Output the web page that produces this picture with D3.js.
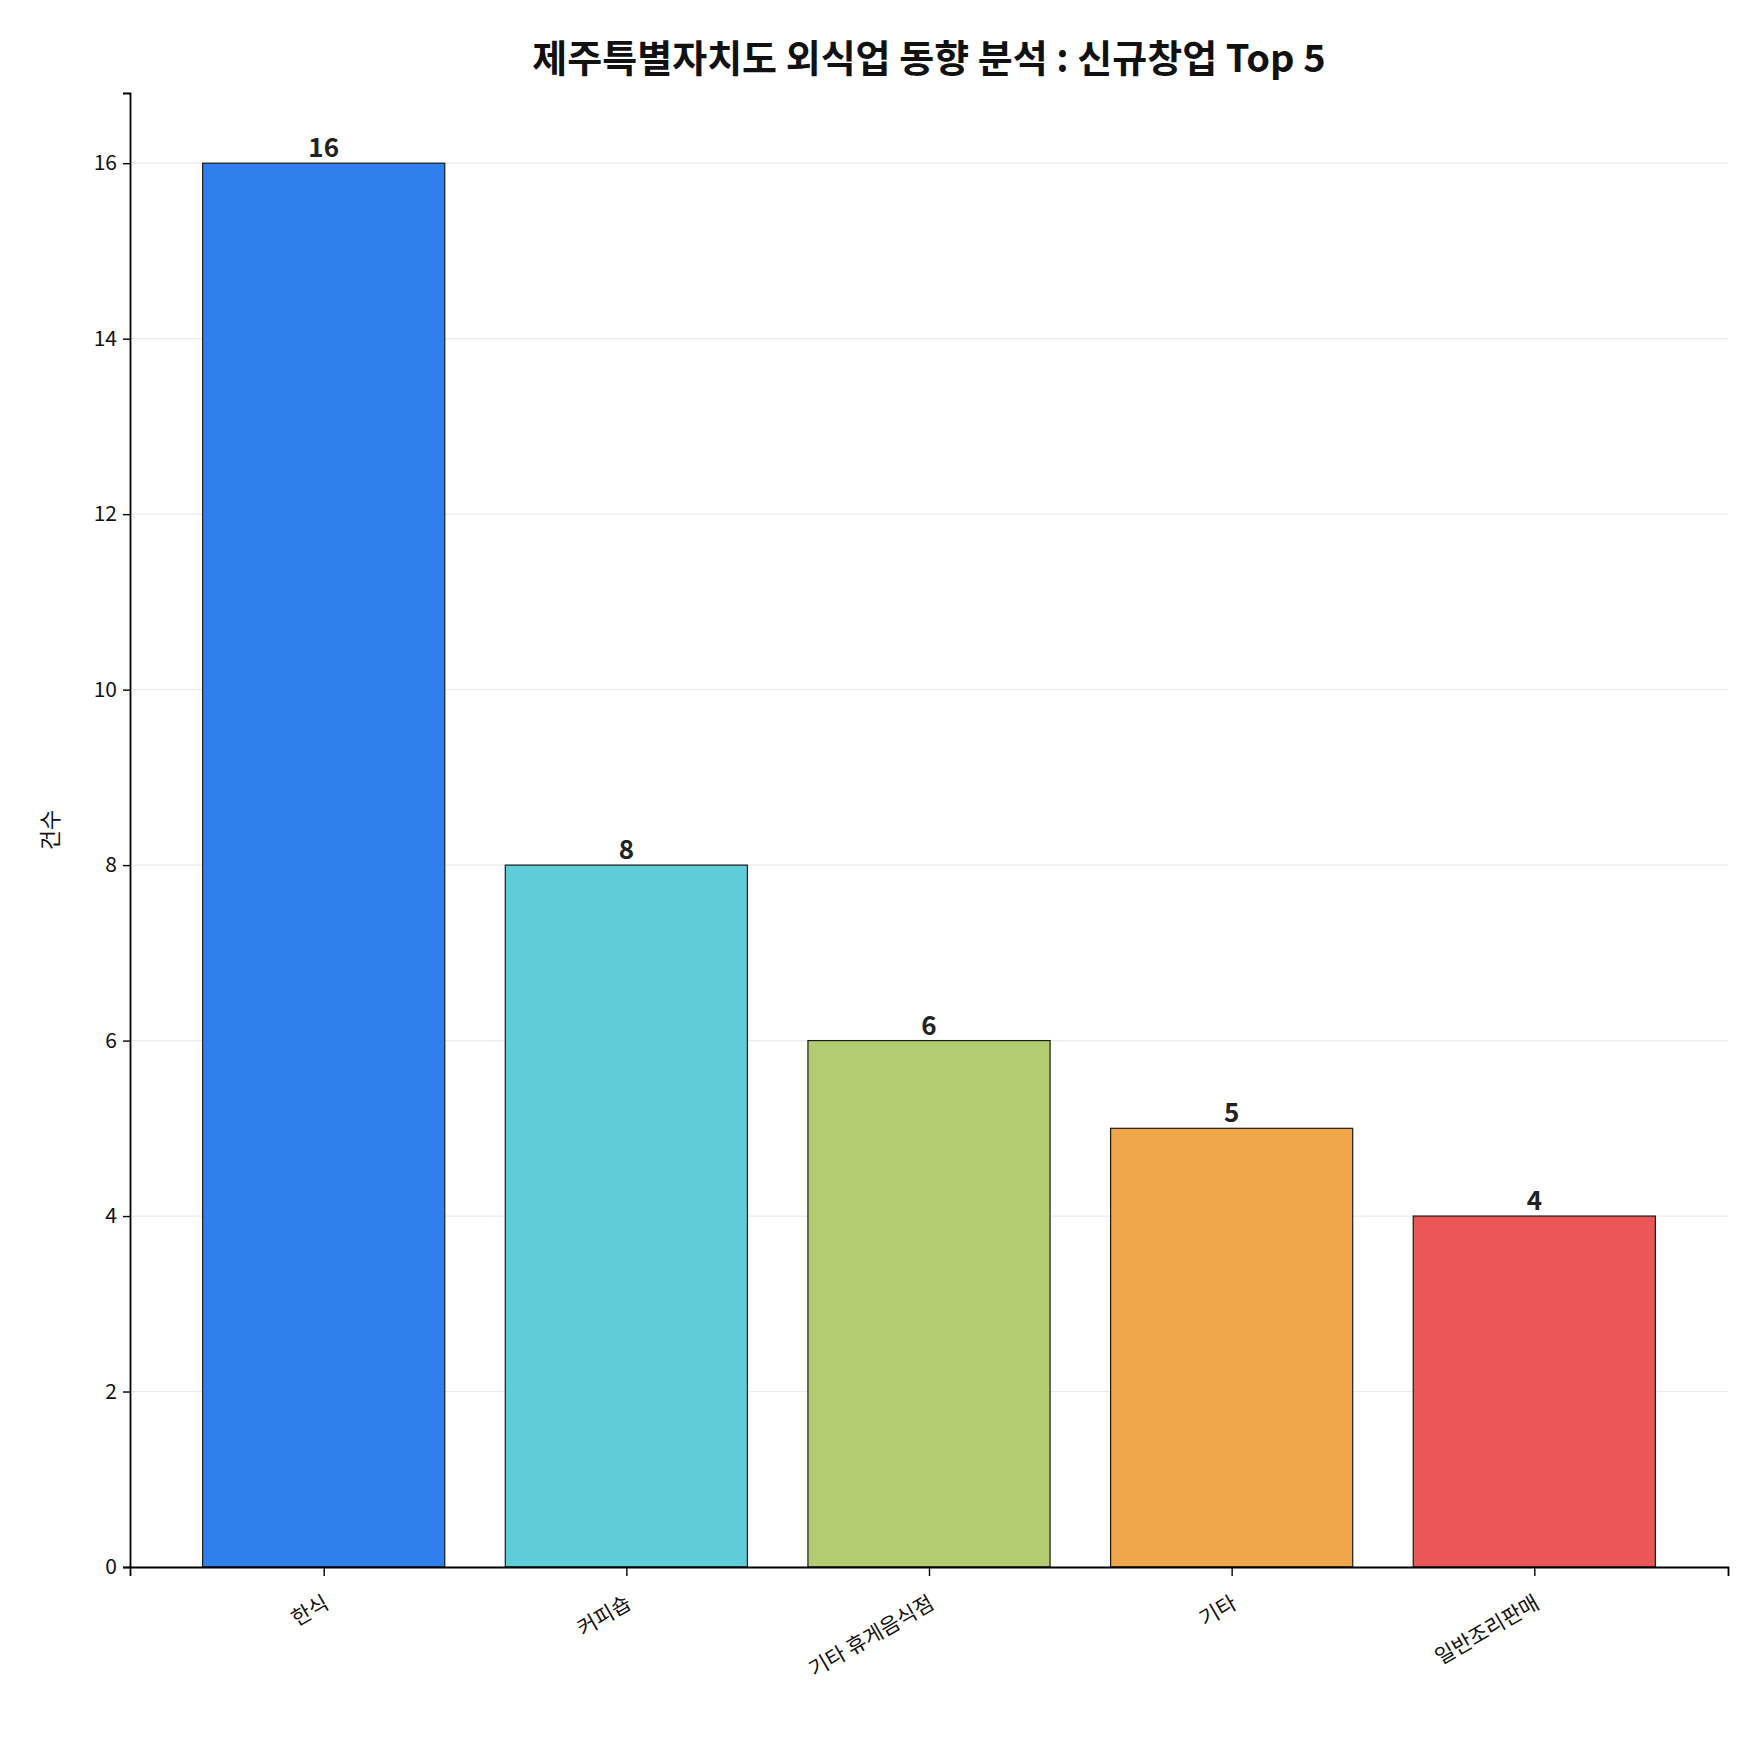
<!DOCTYPE html>
<html><head><meta charset="utf-8">
<script src="https://cdn.jsdelivr.net/npm/d3@7"></script>
<style>body{margin:0;background:#fff}text{font-family:"Noto Sans CJK KR","Noto Sans",sans-serif}</style>
</head><body><div id="chart"></div>
<script>
const categories = ["한식", "커피숍", "기타 휴게음식점", "기타", "일반조리판매"];
const counts = [16, 8, 6, 5, 4];
const colors = ["#2f80ed", "#5ecdd9", "#b3cc72", "#f0a64b", "#eb5757"];
const yTicks = [0, 2, 4, 6, 8, 10, 12, 14, 16];

const width = 1760, height = 1760,
      margin = {top: 93, right: 32, bottom: 193, left: 130};

const svg = d3.select("#chart").append("svg")
    .attr("width", width).attr("height", height);

const x = d3.scaleLinear().domain([-0.64, 4.64]).range([margin.left, width - margin.right]);
const y = d3.scaleLinear().domain([0, 16.8]).range([height - margin.bottom, margin.top]);
const bw = x(0.4) - x(-0.4);

// grid
svg.append("g").selectAll("line").data(yTicks.slice(1)).join("line")
    .attr("x1", margin.left).attr("x2", width - margin.right)
    .attr("y1", d => y(d)).attr("y2", d => y(d))
    .attr("stroke", "#ebebeb").attr("stroke-width", 1.2);

svg.selectAll(".bar").data(counts).join("rect")
    .attr("class", "bar")
    .attr("x", (d, i) => x(i) - bw / 2).attr("width", bw)
    .attr("y", d => y(d)).attr("height", d => y(0) - y(d))
    .attr("fill", (d, i) => colors[i])
    .attr("stroke", "#1a1a1a").attr("stroke-width", 1.2);

svg.selectAll(".val").data(counts).join("text")
    .attr("x", (d, i) => x(i)).attr("y", d => y(d) - 6)
    .attr("text-anchor", "middle").attr("font-size", 26).attr("font-weight", "bold")
    .attr("fill", "#222").text(d => d);

// axes
const yAxis = svg.append("g").attr("transform", `translate(${margin.left},0)`)
    .call(d3.axisLeft(y).tickValues(yTicks).tickSize(7).tickPadding(6));
yAxis.select(".domain").attr("stroke-width", 1.8);
yAxis.selectAll(".tick line").attr("stroke-width", 1.4);
yAxis.selectAll("text").attr("font-size", 21).attr("fill", "#111");

const xAxis = svg.append("g").attr("transform", `translate(0,${height - margin.bottom})`)
    .call(d3.axisBottom(x).tickValues(d3.range(5)).tickFormat(i => categories[i]).tickSizeOuter(0).tickSize(9));
xAxis.select(".domain").attr("stroke-width", 1.8);
xAxis.selectAll(".tick line").attr("stroke-width", 1.4);
xAxis.selectAll("text").attr("font-size", 21).attr("fill", "#111")
    .attr("text-anchor", "end").attr("dy", 0)
    .attr("transform", "translate(0,30) rotate(-30)");

svg.append("text")
    .attr("transform", `translate(58,${(margin.top + height - margin.bottom) / 2}) rotate(-90)`)
    .attr("text-anchor", "middle").attr("font-size", 22).attr("fill", "#111").text("건수");

svg.append("text")
    .attr("x", (margin.left + width - margin.right) / 2).attr("y", 72)
    .attr("text-anchor", "middle").attr("font-size", 38).attr("font-weight", "bold")
    .attr("fill", "#111").text("제주특별자치도 외식업 동향 분석 : 신규창업 Top 5");
</script></body></html>
